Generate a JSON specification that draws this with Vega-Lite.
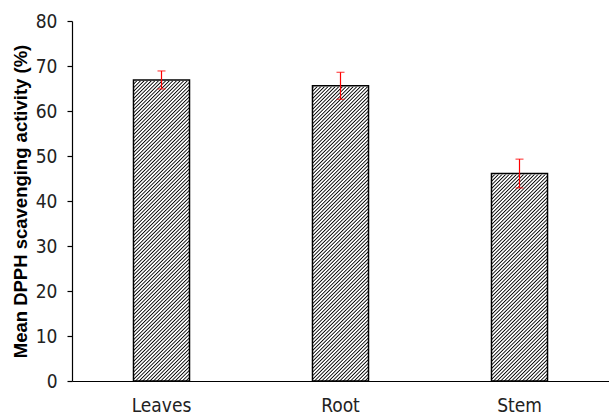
{
  "$schema": "https://vega.github.io/schema/vega-lite/v6.json",
  "width": 537,
  "height": 360,
  "autosize": "none",
  "padding": {"left": 72, "top": 21, "right": 0, "bottom": 34},
  "background": "#ffffff",
  "data": {
    "values": [
      {"part": "Leaves", "mean": 66.9, "lo": 64.9, "hi": 68.9},
      {"part": "Root", "mean": 65.6, "lo": 62.6, "hi": 68.6},
      {"part": "Stem", "mean": 46.1, "lo": 42.9, "hi": 49.3}
    ]
  },
  "encoding": {
    "x": {
      "field": "part",
      "type": "nominal",
      "sort": null,
      "scale": {"paddingInner": 0.687, "paddingOuter": 0.3435},
      "axis": {"title": null, "labelAngle": 0, "ticks": false, "labelPadding": 15}
    }
  },
  "layer": [
    {
      "mark": {
        "type": "bar",
        "stroke": null,
        "fill": {
          "gradient": "linear",
          "x1": 1, "y1": 1, "x2": 0.848119, "y2": 0.023626,
          "stops": [
{"offset":0,"color":"#000"},{"offset":0.0035,"color":"#fff"},{"offset":0.0065,"color":"#fff"},
{"offset":0.01,"color":"#000"},{"offset":0.0135,"color":"#fff"},{"offset":0.0165,"color":"#fff"},
{"offset":0.02,"color":"#000"},{"offset":0.0235,"color":"#fff"},{"offset":0.0265,"color":"#fff"},
{"offset":0.03,"color":"#000"},{"offset":0.0335,"color":"#fff"},{"offset":0.0365,"color":"#fff"},
{"offset":0.04,"color":"#000"},{"offset":0.0435,"color":"#fff"},{"offset":0.0465,"color":"#fff"},
{"offset":0.05,"color":"#000"},{"offset":0.0535,"color":"#fff"},{"offset":0.0565,"color":"#fff"},
{"offset":0.06,"color":"#000"},{"offset":0.0635,"color":"#fff"},{"offset":0.0665,"color":"#fff"},
{"offset":0.07,"color":"#000"},{"offset":0.0735,"color":"#fff"},{"offset":0.0765,"color":"#fff"},
{"offset":0.08,"color":"#000"},{"offset":0.0835,"color":"#fff"},{"offset":0.0865,"color":"#fff"},
{"offset":0.09,"color":"#000"},{"offset":0.0935,"color":"#fff"},{"offset":0.0965,"color":"#fff"},
{"offset":0.10,"color":"#000"},{"offset":0.1035,"color":"#fff"},{"offset":0.1065,"color":"#fff"},
{"offset":0.11,"color":"#000"},{"offset":0.1135,"color":"#fff"},{"offset":0.1165,"color":"#fff"},
{"offset":0.12,"color":"#000"},{"offset":0.1235,"color":"#fff"},{"offset":0.1265,"color":"#fff"},
{"offset":0.13,"color":"#000"},{"offset":0.1335,"color":"#fff"},{"offset":0.1365,"color":"#fff"},
{"offset":0.14,"color":"#000"},{"offset":0.1435,"color":"#fff"},{"offset":0.1465,"color":"#fff"},
{"offset":0.15,"color":"#000"},{"offset":0.1535,"color":"#fff"},{"offset":0.1565,"color":"#fff"},
{"offset":0.16,"color":"#000"},{"offset":0.1635,"color":"#fff"},{"offset":0.1665,"color":"#fff"},
{"offset":0.17,"color":"#000"},{"offset":0.1735,"color":"#fff"},{"offset":0.1765,"color":"#fff"},
{"offset":0.18,"color":"#000"},{"offset":0.1835,"color":"#fff"},{"offset":0.1865,"color":"#fff"},
{"offset":0.19,"color":"#000"},{"offset":0.1935,"color":"#fff"},{"offset":0.1965,"color":"#fff"},
{"offset":0.20,"color":"#000"},{"offset":0.2035,"color":"#fff"},{"offset":0.2065,"color":"#fff"},
{"offset":0.21,"color":"#000"},{"offset":0.2135,"color":"#fff"},{"offset":0.2165,"color":"#fff"},
{"offset":0.22,"color":"#000"},{"offset":0.2235,"color":"#fff"},{"offset":0.2265,"color":"#fff"},
{"offset":0.23,"color":"#000"},{"offset":0.2335,"color":"#fff"},{"offset":0.2365,"color":"#fff"},
{"offset":0.24,"color":"#000"},{"offset":0.2435,"color":"#fff"},{"offset":0.2465,"color":"#fff"},
{"offset":0.25,"color":"#000"},{"offset":0.2535,"color":"#fff"},{"offset":0.2565,"color":"#fff"},
{"offset":0.26,"color":"#000"},{"offset":0.2635,"color":"#fff"},{"offset":0.2665,"color":"#fff"},
{"offset":0.27,"color":"#000"},{"offset":0.2735,"color":"#fff"},{"offset":0.2765,"color":"#fff"},
{"offset":0.28,"color":"#000"},{"offset":0.2835,"color":"#fff"},{"offset":0.2865,"color":"#fff"},
{"offset":0.29,"color":"#000"},{"offset":0.2935,"color":"#fff"},{"offset":0.2965,"color":"#fff"},
{"offset":0.30,"color":"#000"},{"offset":0.3035,"color":"#fff"},{"offset":0.3065,"color":"#fff"},
{"offset":0.31,"color":"#000"},{"offset":0.3135,"color":"#fff"},{"offset":0.3165,"color":"#fff"},
{"offset":0.32,"color":"#000"},{"offset":0.3235,"color":"#fff"},{"offset":0.3265,"color":"#fff"},
{"offset":0.33,"color":"#000"},{"offset":0.3335,"color":"#fff"},{"offset":0.3365,"color":"#fff"},
{"offset":0.34,"color":"#000"},{"offset":0.3435,"color":"#fff"},{"offset":0.3465,"color":"#fff"},
{"offset":0.35,"color":"#000"},{"offset":0.3535,"color":"#fff"},{"offset":0.3565,"color":"#fff"},
{"offset":0.36,"color":"#000"},{"offset":0.3635,"color":"#fff"},{"offset":0.3665,"color":"#fff"},
{"offset":0.37,"color":"#000"},{"offset":0.3735,"color":"#fff"},{"offset":0.3765,"color":"#fff"},
{"offset":0.38,"color":"#000"},{"offset":0.3835,"color":"#fff"},{"offset":0.3865,"color":"#fff"},
{"offset":0.39,"color":"#000"},{"offset":0.3935,"color":"#fff"},{"offset":0.3965,"color":"#fff"},
{"offset":0.40,"color":"#000"},{"offset":0.4035,"color":"#fff"},{"offset":0.4065,"color":"#fff"},
{"offset":0.41,"color":"#000"},{"offset":0.4135,"color":"#fff"},{"offset":0.4165,"color":"#fff"},
{"offset":0.42,"color":"#000"},{"offset":0.4235,"color":"#fff"},{"offset":0.4265,"color":"#fff"},
{"offset":0.43,"color":"#000"},{"offset":0.4335,"color":"#fff"},{"offset":0.4365,"color":"#fff"},
{"offset":0.44,"color":"#000"},{"offset":0.4435,"color":"#fff"},{"offset":0.4465,"color":"#fff"},
{"offset":0.45,"color":"#000"},{"offset":0.4535,"color":"#fff"},{"offset":0.4565,"color":"#fff"},
{"offset":0.46,"color":"#000"},{"offset":0.4635,"color":"#fff"},{"offset":0.4665,"color":"#fff"},
{"offset":0.47,"color":"#000"},{"offset":0.4735,"color":"#fff"},{"offset":0.4765,"color":"#fff"},
{"offset":0.48,"color":"#000"},{"offset":0.4835,"color":"#fff"},{"offset":0.4865,"color":"#fff"},
{"offset":0.49,"color":"#000"},{"offset":0.4935,"color":"#fff"},{"offset":0.4965,"color":"#fff"},
{"offset":0.50,"color":"#000"},{"offset":0.5035,"color":"#fff"},{"offset":0.5065,"color":"#fff"},
{"offset":0.51,"color":"#000"},{"offset":0.5135,"color":"#fff"},{"offset":0.5165,"color":"#fff"},
{"offset":0.52,"color":"#000"},{"offset":0.5235,"color":"#fff"},{"offset":0.5265,"color":"#fff"},
{"offset":0.53,"color":"#000"},{"offset":0.5335,"color":"#fff"},{"offset":0.5365,"color":"#fff"},
{"offset":0.54,"color":"#000"},{"offset":0.5435,"color":"#fff"},{"offset":0.5465,"color":"#fff"},
{"offset":0.55,"color":"#000"},{"offset":0.5535,"color":"#fff"},{"offset":0.5565,"color":"#fff"},
{"offset":0.56,"color":"#000"},{"offset":0.5635,"color":"#fff"},{"offset":0.5665,"color":"#fff"},
{"offset":0.57,"color":"#000"},{"offset":0.5735,"color":"#fff"},{"offset":0.5765,"color":"#fff"},
{"offset":0.58,"color":"#000"},{"offset":0.5835,"color":"#fff"},{"offset":0.5865,"color":"#fff"},
{"offset":0.59,"color":"#000"},{"offset":0.5935,"color":"#fff"},{"offset":0.5965,"color":"#fff"},
{"offset":0.60,"color":"#000"},{"offset":0.6035,"color":"#fff"},{"offset":0.6065,"color":"#fff"},
{"offset":0.61,"color":"#000"},{"offset":0.6135,"color":"#fff"},{"offset":0.6165,"color":"#fff"},
{"offset":0.62,"color":"#000"},{"offset":0.6235,"color":"#fff"},{"offset":0.6265,"color":"#fff"},
{"offset":0.63,"color":"#000"},{"offset":0.6335,"color":"#fff"},{"offset":0.6365,"color":"#fff"},
{"offset":0.64,"color":"#000"},{"offset":0.6435,"color":"#fff"},{"offset":0.6465,"color":"#fff"},
{"offset":0.65,"color":"#000"},{"offset":0.6535,"color":"#fff"},{"offset":0.6565,"color":"#fff"},
{"offset":0.66,"color":"#000"},{"offset":0.6635,"color":"#fff"},{"offset":0.6665,"color":"#fff"},
{"offset":0.67,"color":"#000"},{"offset":0.6735,"color":"#fff"},{"offset":0.6765,"color":"#fff"},
{"offset":0.68,"color":"#000"},{"offset":0.6835,"color":"#fff"},{"offset":0.6865,"color":"#fff"},
{"offset":0.69,"color":"#000"},{"offset":0.6935,"color":"#fff"},{"offset":0.6965,"color":"#fff"},
{"offset":0.70,"color":"#000"},{"offset":0.7035,"color":"#fff"},{"offset":0.7065,"color":"#fff"},
{"offset":0.71,"color":"#000"},{"offset":0.7135,"color":"#fff"},{"offset":0.7165,"color":"#fff"},
{"offset":0.72,"color":"#000"},{"offset":0.7235,"color":"#fff"},{"offset":0.7265,"color":"#fff"},
{"offset":0.73,"color":"#000"},{"offset":0.7335,"color":"#fff"},{"offset":0.7365,"color":"#fff"},
{"offset":0.74,"color":"#000"},{"offset":0.7435,"color":"#fff"},{"offset":0.7465,"color":"#fff"},
{"offset":0.75,"color":"#000"},{"offset":0.7535,"color":"#fff"},{"offset":0.7565,"color":"#fff"},
{"offset":0.76,"color":"#000"},{"offset":0.7635,"color":"#fff"},{"offset":0.7665,"color":"#fff"},
{"offset":0.77,"color":"#000"},{"offset":0.7735,"color":"#fff"},{"offset":0.7765,"color":"#fff"},
{"offset":0.78,"color":"#000"},{"offset":0.7835,"color":"#fff"},{"offset":0.7865,"color":"#fff"},
{"offset":0.79,"color":"#000"},{"offset":0.7935,"color":"#fff"},{"offset":0.7965,"color":"#fff"},
{"offset":0.80,"color":"#000"},{"offset":0.8035,"color":"#fff"},{"offset":0.8065,"color":"#fff"},
{"offset":0.81,"color":"#000"},{"offset":0.8135,"color":"#fff"},{"offset":0.8165,"color":"#fff"},
{"offset":0.82,"color":"#000"},{"offset":0.8235,"color":"#fff"},{"offset":0.8265,"color":"#fff"},
{"offset":0.83,"color":"#000"},{"offset":0.8335,"color":"#fff"},{"offset":0.8365,"color":"#fff"},
{"offset":0.84,"color":"#000"},{"offset":0.8435,"color":"#fff"},{"offset":0.8465,"color":"#fff"},
{"offset":0.85,"color":"#000"},{"offset":0.8535,"color":"#fff"},{"offset":0.8565,"color":"#fff"},
{"offset":0.86,"color":"#000"},{"offset":0.8635,"color":"#fff"},{"offset":0.8665,"color":"#fff"},
{"offset":0.87,"color":"#000"},{"offset":0.8735,"color":"#fff"},{"offset":0.8765,"color":"#fff"},
{"offset":0.88,"color":"#000"},{"offset":0.8835,"color":"#fff"},{"offset":0.8865,"color":"#fff"},
{"offset":0.89,"color":"#000"},{"offset":0.8935,"color":"#fff"},{"offset":0.8965,"color":"#fff"},
{"offset":0.90,"color":"#000"},{"offset":0.9035,"color":"#fff"},{"offset":0.9065,"color":"#fff"},
{"offset":0.91,"color":"#000"},{"offset":0.9135,"color":"#fff"},{"offset":0.9165,"color":"#fff"},
{"offset":0.92,"color":"#000"},{"offset":0.9235,"color":"#fff"},{"offset":0.9265,"color":"#fff"},
{"offset":0.93,"color":"#000"},{"offset":0.9335,"color":"#fff"},{"offset":0.9365,"color":"#fff"},
{"offset":0.94,"color":"#000"},{"offset":0.9435,"color":"#fff"},{"offset":0.9465,"color":"#fff"},
{"offset":0.95,"color":"#000"},{"offset":0.9535,"color":"#fff"},{"offset":0.9565,"color":"#fff"},
{"offset":0.96,"color":"#000"},{"offset":0.9635,"color":"#fff"},{"offset":0.9665,"color":"#fff"},
{"offset":0.97,"color":"#000"},{"offset":0.9735,"color":"#fff"},{"offset":0.9765,"color":"#fff"},
{"offset":0.98,"color":"#000"},{"offset":0.9835,"color":"#fff"},{"offset":0.9865,"color":"#fff"},
{"offset":0.99,"color":"#000"},{"offset":0.9935,"color":"#fff"},{"offset":0.9965,"color":"#fff"}
          ]
        }
      },
      "encoding": {
        "y": {
          "datum": 80,
          "type": "quantitative",
          "scale": {"domain": [0, 80], "nice": false},
          "axis": {"values": [0, 10, 20, 30, 40, 50, 60, 70, 80]},
          "title": "Mean DPPH scavenging activity (%)"
        },
        "y2": {"datum": 0}
      }
    },
    {
      "mark": {"type": "bar", "fill": "#ffffff", "stroke": "#ffffff", "strokeWidth": 2},
      "encoding": {
        "y": {
          "field": "mean",
          "type": "quantitative",
          "scale": {"domain": [0, 80], "nice": false},
          "title": "Mean DPPH scavenging activity (%)"
        },
        "y2": {"datum": 80}
      }
    },
    {
      "mark": {"type": "bar", "filled": false, "color": "#000000", "strokeWidth": 1.5},
      "encoding": {
        "y": {
          "field": "mean",
          "type": "quantitative",
          "title": "Mean DPPH scavenging activity (%)"
        }
      }
    },
    {
      "mark": {"type": "rule", "color": "#ff0000", "strokeWidth": 1.2},
      "encoding": {
        "y": {"field": "lo", "type": "quantitative", "title": "Mean DPPH scavenging activity (%)"},
        "y2": {"field": "hi"}
      }
    },
    {
      "mark": {"type": "tick", "color": "#ff0000", "size": 8, "thickness": 1.2},
      "encoding": {
        "y": {"field": "lo", "type": "quantitative", "title": "Mean DPPH scavenging activity (%)"}
      }
    },
    {
      "mark": {"type": "tick", "color": "#ff0000", "size": 8, "thickness": 1.2},
      "encoding": {
        "y": {"field": "hi", "type": "quantitative", "title": "Mean DPPH scavenging activity (%)"}
      }
    }
  ],
  "config": {
    "view": {"stroke": null},
    "axis": {
      "grid": false,
      "domainColor": "#000000",
      "domainWidth": 1.2,
      "tickColor": "#000000",
      "tickSize": 5,
      "tickWidth": 1.2,
      "labelFont": "DejaVu Sans Condensed",
      "labelFontSize": 19,
      "labelColor": "#222222",
      "labelPadding": 10,
      "titleFont": "Liberation Sans",
      "titleFontSize": 18.5,
      "titleFontWeight": "bold",
      "titleColor": "#000000",
      "titlePadding": 5
    },
    "axisX": {"labelPadding": 15}
  }
}
